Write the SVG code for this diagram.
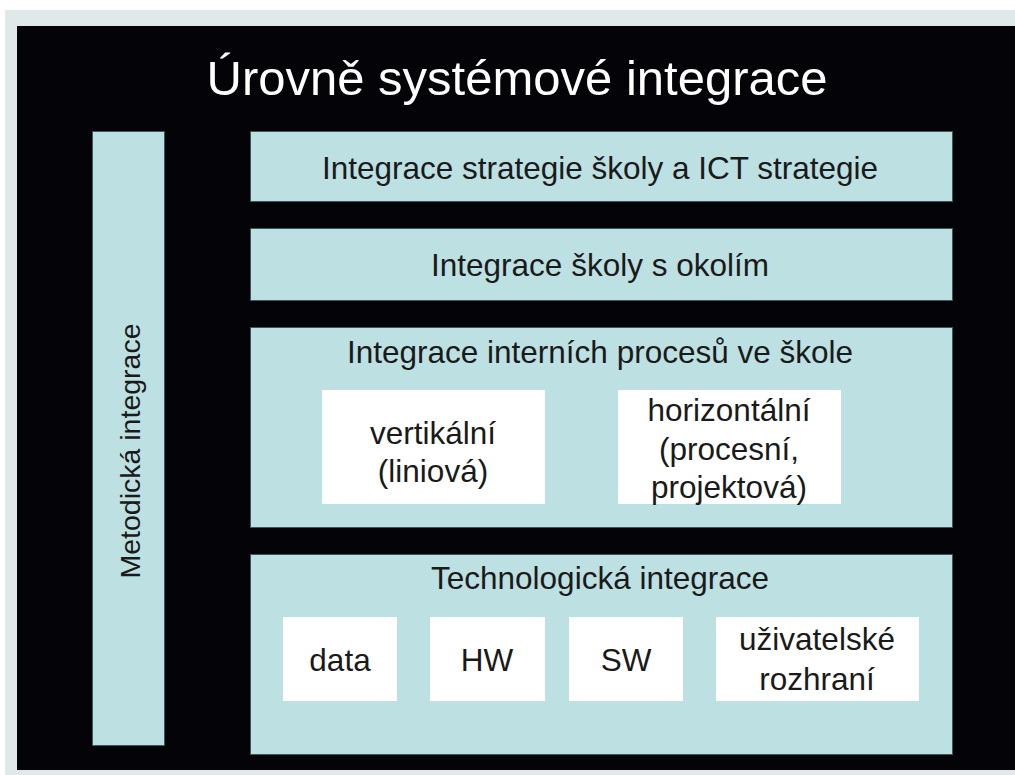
<svg xmlns="http://www.w3.org/2000/svg" width="1015" height="775" viewBox="0 0 1015 775">
<style>
.panel{fill:#bde0e3;stroke:#3d5658;stroke-width:1}
.inner{fill:#ffffff}
.t{font-family:"Liberation Sans",Arial,sans-serif;fill:#1a1a1a;text-anchor:middle;font-size:31.5px}
</style>
<rect x="0" y="0" width="1015" height="775" fill="#ffffff"/>
<rect x="5" y="10" width="1010" height="765" fill="#dfe9ea"/>
<rect x="17" y="26" width="998" height="744" fill="#040307"/>
<text x="517" y="95" font-family="'Liberation Sans',Arial,sans-serif" font-size="49" fill="#ffffff" text-anchor="middle">Úrovně systémové integrace</text>
<g id="metodicka">
<rect class="panel" x="92.5" y="131.5" width="72" height="614"/>
<text class="t" style="font-size:28.5px" transform="translate(140 451) rotate(-90)">Metodická integrace</text>
</g>
<g id="strategie">
<rect class="panel" x="250.5" y="131.5" width="702" height="70"/>
<text class="t" x="600" y="179">Integrace strategie školy a ICT strategie</text>
</g>
<g id="okoli">
<rect class="panel" x="250.5" y="228.5" width="702" height="72"/>
<text class="t" x="600" y="276">Integrace školy s okolím</text>
</g>
<g id="interni">
<rect class="panel" x="250.5" y="327.5" width="702" height="200"/>
<text class="t" x="600" y="363">Integrace interních procesů ve škole</text>
</g>
<g id="vertikalni">
<rect class="inner" x="322" y="390" width="223" height="114"/>
<text class="t" x="433" y="444">vertikální</text>
<text class="t" x="433" y="482">(liniová)</text>
</g>
<g id="horizontalni">
<rect class="inner" x="618" y="390" width="223" height="114"/>
<text class="t" x="729" y="421">horizontální</text>
<text class="t" x="729" y="460">(procesní,</text>
<text class="t" x="729" y="498">projektová)</text>
</g>
<g id="technologicka">
<rect class="panel" x="250.5" y="554.5" width="702" height="200"/>
<text class="t" x="600" y="589">Technologická integrace</text>
</g>
<g id="data">
<rect class="inner" x="283" y="617" width="114" height="84"/>
<text class="t" x="340" y="671">data</text>
</g>
<g id="hw">
<rect class="inner" x="430" y="617" width="115" height="84"/>
<text class="t" x="487" y="671">HW</text>
</g>
<g id="sw">
<rect class="inner" x="569" y="617" width="114" height="84"/>
<text class="t" x="626" y="671">SW</text>
</g>
<g id="rozhrani">
<rect class="inner" x="716" y="617" width="203" height="84"/>
<text class="t" x="817" y="650">uživatelské</text>
<text class="t" x="817" y="690">rozhraní</text>
</g>
<g id="connectors"></g>
</svg>
